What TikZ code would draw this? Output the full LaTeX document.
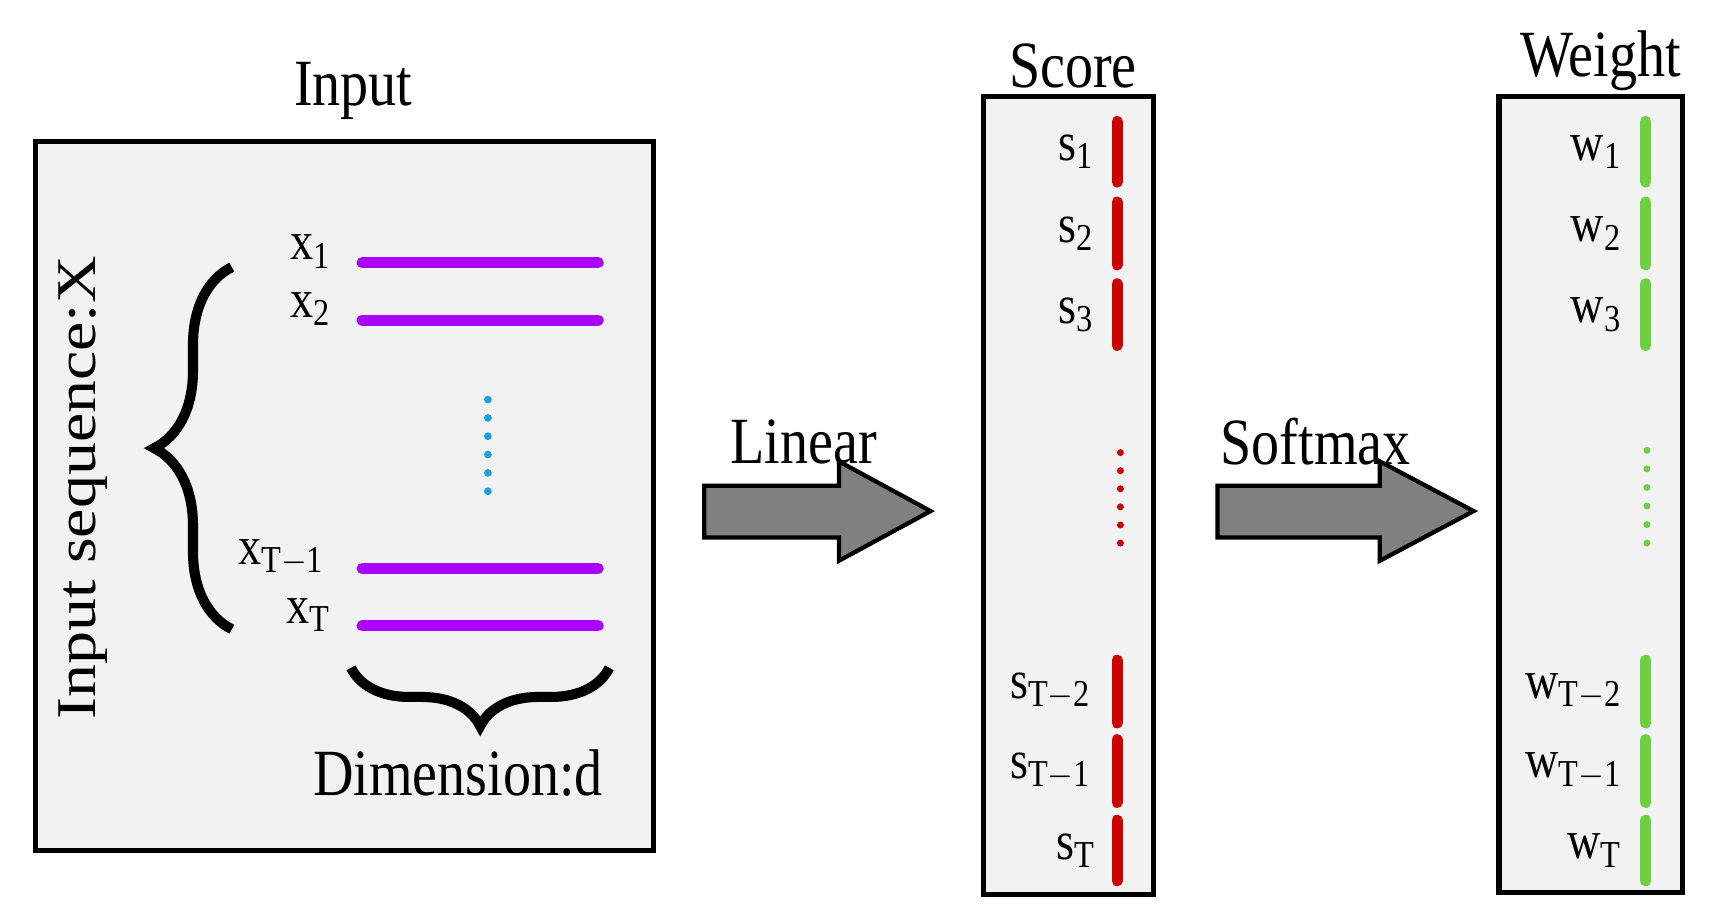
\documentclass[tikz,border=0pt]{standalone}
\usepackage{fontspec}
\setmainfont{Liberation Serif}
\usetikzlibrary{decorations.pathreplacing}
\definecolor{boxg}{HTML}{F2F2F2}
\definecolor{purp}{HTML}{AA00FF}
\definecolor{dblue}{HTML}{1BA1E2}
\definecolor{dred}{HTML}{CC0000}
\definecolor{dgreen}{HTML}{6CD040}
\begin{document}
\begin{tikzpicture}[x=0.01cm,y=-0.01cm,
  box/.style={draw=black,line width=1.3pt,fill=boxg},
  lbl/.style={font=\fontsize{17}{19}\selectfont,xscale=0.85},
  sub/.style={font=\fontsize{14}{16}\selectfont,xscale=0.85},
  seq/.style={line width=2.8pt,line cap=round},
  bar/.style={line width=2.8pt,line cap=round},
  bigarrow/.style={draw=black,line width=1.1pt,fill=gray}]
\useasboundingbox (0,0) rectangle (1560,833);
% Input box
\node[box,minimum width=5.6cm,minimum height=6.42cm,inner sep=0pt] (inbox) at (312,449) {};
\node[lbl] (tin) at (320,82) {Input};
\node[lbl,rotate=90] (tseq) at (75,442) {Input sequence:X};
\coordinate (b1) at (210,570); \coordinate (b2) at (210,242);
\draw[line width=2.6pt,decorate,decoration={brace,amplitude=20pt,aspect=0.5}] (b1) -- (b2);
\foreach \n/\y/\t/\lx in {a/238/x_{1}/282,b/290/x_{2}/282,c/515/x_{T-1}/255,d/567/x_{T}/280}{
  \coordinate (s\n) at (328,\y); \coordinate (e\n) at (542,\y);
  \draw[seq,purp] (s\n) -- (e\n);
  \node[sub] (l\n) at (\lx,\y-10) {$\mathrm{\t}$};
}
\foreach \i in {0,...,5}{\fill[dblue] (442,362+\i*16.6) circle (1pt);}
\coordinate (c1) at (318,605); \coordinate (c2) at (552,605);
\draw[line width=2.6pt,decorate,decoration={brace,mirror,amplitude=15pt}] (c1) -- (c2);
\node[lbl] (tdim) at (415,700) {Dimension:d};
% arrows
\draw[bigarrow] (638,440) -- (760,440) -- (760,418) -- (843,463) -- (760,508) -- (760,487) -- (638,487) -- cycle;
\node[lbl] (tlin) at (728,400) {Linear};
\draw[bigarrow] (1103,440) -- (1250,440) -- (1250,418) -- (1335,463) -- (1250,508) -- (1250,487) -- (1103,487) -- cycle;
\node[lbl] (tsoft) at (1192,400) {Softmax};
% Score box
\node[box,minimum width=1.54cm,minimum height=7.22cm,inner sep=0pt] (sbox) at (968,449) {};
\node[lbl] (tscore) at (972,60) {Score};
\node[box,minimum width=1.66cm,minimum height=7.2cm,inner sep=0pt] (wbox) at (1441,448) {};
\node[lbl] (tw) at (1450,55) {Weight};
\foreach \n/\a/\b/\t/\lx in {1/110/165/1/975,2/183/240/2/975,3/257/313/3/975,4/598/655/T-2/952,5/670/727/T-1/952,6/743/798/T/975}{
  \coordinate (ra\n) at (1012,\a); \coordinate (rb\n) at (1012,\b);
  \draw[bar,dred] (ra\n) -- (rb\n);
  \node[sub] (sl\n) at (\lx,{(\a+\b)/2}) {$\mathrm{s}_{\mathrm{\t}}$};
  \coordinate (ga\n) at (1491,\a); \coordinate (gb\n) at (1491,\b);
  \draw[bar,dgreen] (ga\n) -- (gb\n);
  \node[sub,anchor=east] (wl\n) at (1480,{(\a+\b)/2}) {$\mathrm{w}_{\mathrm{\t}}$};
}
\foreach \i in {0,...,5}{\fill[dred] (1015,410+\i*16.4) circle (0.9pt);
  \fill[dgreen] (1492,408+\i*16.8) circle (0.9pt);}
\end{tikzpicture}
\end{document}
